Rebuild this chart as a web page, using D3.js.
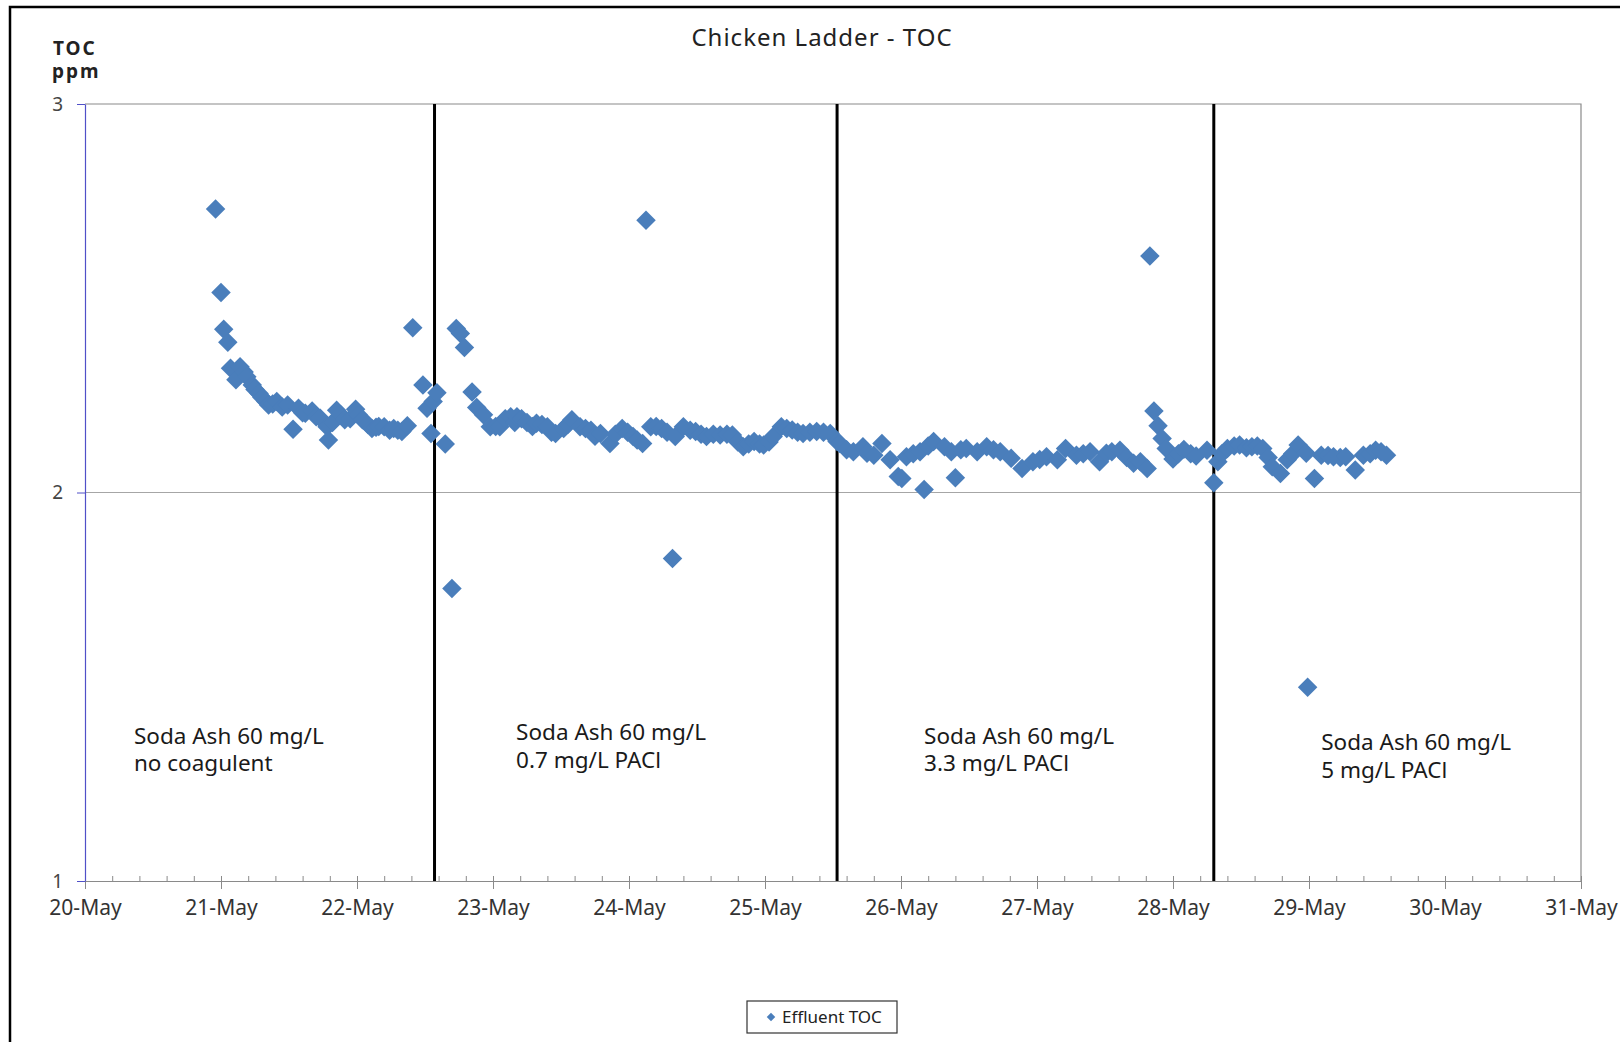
<!DOCTYPE html>
<html>
<head>
<meta charset="utf-8">
<script src="https://cdn.jsdelivr.net/npm/d3@7"></script>
<style>
  body { margin: 0; background: #fff; }
  svg { display: block; font-family: "Noto Sans", "Open Sans", sans-serif; }
</style>
</head>
<body>
<div id="vis"></div>
<script>
// Effluent TOC readings: day of May (decimal) and ppm
const days = [
  20.96, 21.00, 21.02, 21.05, 21.07, 21.11, 21.14, 21.17, 21.19, 21.23, 21.25, 21.28, 21.30, 21.33, 21.35,
  21.38, 21.41, 21.45, 21.49, 21.53, 21.57, 21.60, 21.62, 21.67, 21.70, 21.73, 21.78, 21.79, 21.82, 21.85,
  21.88, 21.91, 21.95, 21.99, 22.01, 22.04, 22.08, 22.11, 22.14, 22.16, 22.20, 22.24, 22.27, 22.30, 22.33,
  22.37, 22.41, 22.485, 22.515, 22.544, 22.56, 22.588, 22.649,
  22.698, 22.73, 22.76, 22.79, 22.846, 22.88, 22.93, 22.98, 23.02, 23.05, 23.09, 23.13, 23.16, 23.176,
  23.21, 23.25, 23.29, 23.32, 23.36, 23.40, 23.43, 23.46, 23.52, 23.55, 23.58, 23.64, 23.68, 23.72,
  23.75, 23.79, 23.86, 23.90, 23.95, 23.99, 24.03, 24.06, 24.10, 24.125, 24.16, 24.20,
  24.24, 24.28, 24.32, 24.34, 24.40, 24.45, 24.49, 24.53, 24.57, 24.62, 24.67, 24.72, 24.76, 24.80, 24.84,
  24.88, 24.92, 24.96, 24.99, 25.03, 25.06, 25.12, 25.16, 25.20, 25.24, 25.28, 25.33, 25.38, 25.43, 25.48,
  25.53, 25.55, 25.60, 25.65, 25.72, 25.75, 25.80, 25.86, 25.92, 25.98, 26.006, 26.04, 26.09, 26.14,
  26.17, 26.20, 26.24, 26.32, 26.37, 26.40, 26.44, 26.48, 26.56, 26.63, 26.68, 26.73, 26.81, 26.89,
  26.97, 27.02, 27.07, 27.15, 27.21, 27.29, 27.34, 27.39, 27.46, 27.51, 27.55, 27.61, 27.66, 27.71,
  27.76, 27.81, 27.83, 27.86, 27.89, 27.92, 27.95, 28.00, 28.04, 28.08, 28.13, 28.17, 28.25,
  28.30, 28.33, 28.36, 28.40, 28.45, 28.49, 28.54, 28.58, 28.62, 28.66, 28.70, 28.73, 28.79, 28.84,
  28.88, 28.92, 28.98, 28.99, 29.04, 29.09, 29.14, 29.18, 29.23, 29.27, 29.34, 29.40, 29.45, 29.49,
  29.53, 29.57
];
const toc = [
  2.73, 2.515, 2.42, 2.387, 2.32, 2.29, 2.324, 2.31, 2.298, 2.277, 2.265, 2.255, 2.245, 2.234, 2.225,
  2.228, 2.234, 2.22, 2.225, 2.163, 2.217, 2.205, 2.204, 2.21, 2.195, 2.191, 2.169, 2.135, 2.18, 2.212,
  2.20, 2.187, 2.19, 2.214, 2.20, 2.187, 2.175, 2.165, 2.168, 2.17, 2.169, 2.16, 2.165, 2.16, 2.157,
  2.172, 2.424, 2.277, 2.217, 2.152, 2.234, 2.257, 2.125,
  1.753, 2.422, 2.409, 2.373, 2.259, 2.219, 2.20, 2.169, 2.17, 2.169, 2.19, 2.195, 2.18, 2.195,
  2.19, 2.18, 2.17, 2.178, 2.175, 2.169, 2.155, 2.152, 2.165, 2.175, 2.187, 2.169, 2.165, 2.16,
  2.145, 2.152, 2.126, 2.15, 2.165, 2.155, 2.144, 2.135, 2.126, 2.701, 2.169, 2.17,
  2.165, 2.155, 1.83, 2.144, 2.169, 2.16, 2.157, 2.15, 2.144, 2.15, 2.148, 2.15, 2.148, 2.13, 2.118,
  2.125, 2.131, 2.125, 2.122, 2.13, 2.144, 2.169, 2.165, 2.161, 2.155, 2.152, 2.155, 2.157, 2.155, 2.152,
  2.131, 2.126, 2.11, 2.105, 2.118, 2.101, 2.096, 2.126, 2.084, 2.041, 2.036, 2.092, 2.10, 2.105,
  2.008, 2.12, 2.131, 2.118, 2.105, 2.038, 2.11, 2.113, 2.105, 2.118, 2.11, 2.105, 2.088, 2.062,
  2.079, 2.085, 2.092, 2.084, 2.113, 2.096, 2.10, 2.105, 2.079, 2.101, 2.105, 2.109, 2.09, 2.075,
  2.079, 2.062, 2.609, 2.21, 2.172, 2.139, 2.113, 2.086, 2.10, 2.111, 2.10, 2.094, 2.109,
  2.025, 2.079, 2.10, 2.113, 2.12, 2.122, 2.115, 2.118, 2.12, 2.113, 2.09, 2.066, 2.049, 2.084,
  2.10, 2.122, 2.101, 1.499, 2.036, 2.096, 2.095, 2.092, 2.09, 2.092, 2.058, 2.096, 2.10, 2.109,
  2.105, 2.096
];

// Treatment change days and the dosing notes
const changeDays = [22.57, 25.53, 28.30];
const noteDays = [20.36, 23.17, 26.17, 29.09];
const noteLevels = [1.374, 1.382, 1.374, 1.358];
const noteLines = [
  ["Soda Ash 60 mg/L", "no coagulent"],
  ["Soda Ash 60 mg/L", "0.7 mg/L PACl"],
  ["Soda Ash 60 mg/L", "3.3 mg/L PACl"],
  ["Soda Ash 60 mg/L", "5 mg/L PACl"]
];
const xTicks = d3.range(20, 32);
const yTicks = [1, 2, 3];

const data = days.map((d, i) => ({ day: d, toc: toc[i] }));

const width = 1620, height = 1042;
const margin = { top: 104, right: 39, bottom: 161, left: 85 };
const blue = "#4a7ebb";

const svg = d3.select("#vis").append("svg")
  .attr("width", width)
  .attr("height", height);

// outer chart frame (cropped on right and bottom)
svg.append("path")
  .attr("d", `M10,${height} L10,7 L${width},7`)
  .attr("fill", "none")
  .attr("stroke", "#000")
  .attr("stroke-width", 2.5);

const xScale = d3.scaleLinear().domain([20, 31]).range([margin.left, width - margin.right]);
const yScale = d3.scaleLinear().domain([1, 3]).range([height - margin.bottom, margin.top]);

// title
svg.append("text")
  .attr("x", 822)
  .attr("y", 46)
  .attr("text-anchor", "middle")
  .attr("font-size", "24px")
  .attr("letter-spacing", "1px")
  .attr("fill", "#222")
  .text("Chicken Ladder - TOC");

// y axis title
svg.append("text")
  .attr("x", 53).attr("y", 55)
  .attr("font-size", "19px").attr("font-weight", "bold").attr("fill", "#222")
  .attr("letter-spacing", "2px")
  .text("TOC");
svg.append("text")
  .attr("x", 52).attr("y", 78)
  .attr("font-size", "19px").attr("font-weight", "bold").attr("fill", "#222")
  .attr("letter-spacing", "2px")
  .text("ppm");

// plot frame: top and right
svg.append("path")
  .attr("d", `M${xScale(20)},${yScale(3)} L${xScale(31)},${yScale(3)} L${xScale(31)},${yScale(1)}`)
  .attr("fill", "none")
  .attr("stroke", "#8a8a8a")
  .attr("stroke-width", 1.2);

// horizontal gridline at 2
svg.append("line")
  .attr("x1", xScale(20)).attr("x2", xScale(31))
  .attr("y1", yScale(2)).attr("y2", yScale(2))
  .attr("stroke", "#a6a6a6")
  .attr("stroke-width", 1.2);

// x axis: minor ticks inside, major outside
const xMinor = svg.append("g")
  .attr("transform", `translate(0,${yScale(1)})`)
  .call(d3.axisTop(xScale).tickValues(d3.range(20, 31.001, 0.2)).tickSize(5).tickFormat(""));
xMinor.select(".domain").remove();
xMinor.selectAll("line").attr("stroke", "#8a8a8a");

const xAxis = svg.append("g")
  .attr("transform", `translate(0,${yScale(1)})`)
  .call(d3.axisBottom(xScale).tickValues(xTicks).tickSize(8).tickPadding(11).tickSizeOuter(0)
    .tickFormat(d => d + "-May"));
xAxis.select(".domain").attr("stroke", "#8a8a8a").attr("stroke-width", 1.2);
xAxis.selectAll("line").attr("stroke", "#8a8a8a");
xAxis.selectAll("text")
  .attr("font-size", "21px")
  .attr("fill", "#333")
  .attr("font-family", "'Noto Sans', sans-serif");

// y axis
const yAxis = svg.append("g")
  .attr("transform", `translate(${xScale(20)},0)`)
  .call(d3.axisLeft(yScale).tickValues(yTicks).tickSize(8).tickPadding(14).tickSizeOuter(0)
    .tickFormat(d3.format("d")));
yAxis.select(".domain").attr("stroke", "#5050c8").attr("stroke-width", 1.2);
yAxis.selectAll("line").attr("stroke", "#5050c8");
yAxis.selectAll("text")
  .attr("font-size", "19px")
  .attr("fill", "#444")
  .attr("font-family", "'Noto Sans', sans-serif");

// treatment change lines
svg.selectAll("line.change")
  .data(changeDays)
  .enter()
  .append("line")
  .attr("class", "change")
  .attr("x1", d => xScale(d)).attr("x2", d => xScale(d))
  .attr("y1", yScale(3)).attr("y2", yScale(1))
  .attr("stroke", "#000")
  .attr("stroke-width", 3);

// dosing notes
noteLines.forEach((lines, i) => {
  const t = svg.append("text")
    .attr("x", xScale(noteDays[i]))
    .attr("y", yScale(noteLevels[i]))
    .attr("font-size", "22.5px")
    .attr("fill", "#1a1a1a");
  lines.forEach((line, j) => {
    t.append("tspan")
      .attr("x", xScale(noteDays[i]))
      .attr("dy", j === 0 ? "0.35em" : "1.24em")
      .text(line);
  });
});

// points
const diamond = d3.symbol().type(d3.symbolSquare).size(190);
svg.selectAll("path.pt")
  .data(data)
  .enter()
  .append("path")
  .attr("class", "pt")
  .attr("d", diamond)
  .attr("transform", d => `translate(${xScale(d.day)},${yScale(d.toc)}) rotate(45)`)
  .attr("fill", blue);

// legend
const legend = svg.append("g").attr("transform", "translate(747,1001)");
legend.append("rect")
  .attr("width", 150).attr("height", 32)
  .attr("fill", "#fff")
  .attr("stroke", "#333")
  .attr("stroke-width", 1.2);
legend.append("path")
  .attr("d", d3.symbol().type(d3.symbolSquare).size(36))
  .attr("transform", "translate(24,16) rotate(45)")
  .attr("fill", blue);
legend.append("text")
  .attr("x", 35).attr("y", 22)
  .attr("font-size", "17px")
  .attr("fill", "#222")
  .text("Effluent TOC");
</script>
</body>
</html>
